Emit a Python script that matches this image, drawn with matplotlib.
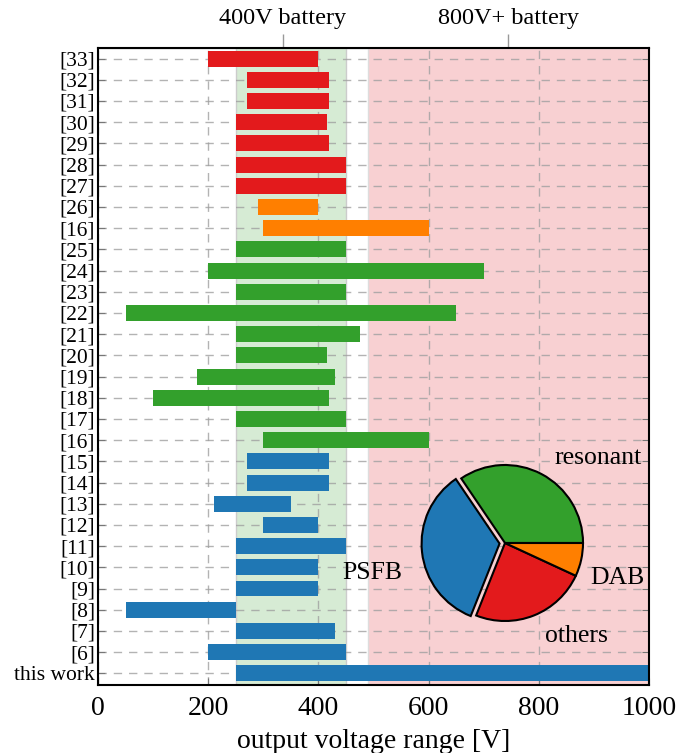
import matplotlib
matplotlib.use('Agg')
import matplotlib.pyplot as plt

# ------------------------------------------------------------------------------
# data
labels = ['this work', '[6]', '[7]', '[8]', '[9]', '[10]', '[11]', '[12]',
          '[13]', '[14]', '[15]', '[16]', '[17]', '[18]', '[19]', '[20]',
          '[21]', '[22]', '[23]', '[24]', '[25]', '[16]', '[26]', '[27]',
          '[28]', '[29]', '[30]', '[31]', '[32]', '[33]']
v_min  = [250, 200, 250,  50, 250, 250, 250, 300, 210, 270, 270,
          300, 250, 100, 180, 250, 250,  50, 250, 200, 250,
          300, 290,
          250, 250, 250, 250, 270, 270, 200]
v_max  = [1000, 450, 430, 250, 400, 400, 450, 400, 350, 420, 420,
          600, 450, 420, 430, 415, 475, 650, 450, 700, 450,
          600, 400,
          450, 450, 420, 415, 420, 420, 400]
kind   = (['PSFB'] * 11 + ['resonant'] * 10 + ['DAB'] * 2 + ['others'] * 7)

pie_names  = ['resonant', 'PSFB', 'others', 'DAB']
pie_counts = [10, 10, 7, 2]

band_400 = (250, 450)
band_800 = (490, 1000)
battery_ticks  = [335, 745]
battery_labels = ['400V battery', '800V+ battery']

colors = {'PSFB'    : '#1f77b4',
          'resonant': '#33a02c',
          'DAB'     : '#ff7f00',
          'others'  : '#e31a1c'}

plt.rcParams['font.family'] = ['Liberation Serif', 'DejaVu Serif']

W, H = 691, 753

# ------------------------------------------------------------------------------
fig = plt.figure(figsize=(W / 100, H / 100), dpi=100)
ax  = fig.add_axes([98 / W, 1 - 685 / H, 551 / W, 637 / H])

ax.axvspan(*band_400, color='#d6ebd4', ec='#cccccc', lw=1, zorder=0.1)
ax.axvspan(*band_800, color='#f8d0d2', ec='#dddddd', lw=1, zorder=0.1)

ypos = list(range(len(labels)))
ax.barh(ypos, [b - a for a, b in zip(v_min, v_max)], left=v_min,
        height=0.75, color=[colors[k] for k in kind], zorder=2)

ax.set_xlim(0, 1000)
ax.set_ylim(-0.55, len(labels) - 0.5)
ax.set_xticks([0, 200, 400, 600, 800, 1000])
ax.set_yticks(ypos)
ax.set_yticklabels(labels, fontsize=15.5)
ax.tick_params(axis='x', labelsize=20, direction='in', length=5,
               color='#777777', pad=8)
ax.tick_params(axis='y', direction='in', length=5, color='#777777',
               right=True, pad=2)
ax.set_xlabel('output voltage range [V]', fontsize=20, labelpad=6)

ax.grid(True, ls=(0, (6, 5)), color='#a0a0a0', lw=1, alpha=0.8)
ax.set_axisbelow(True)
for s in ax.spines.values():
    s.set_linewidth(1.5)

top = ax.secondary_xaxis('top')
top.set_xticks(battery_ticks)
top.set_xticklabels(battery_labels, fontsize=17.5)
top.tick_params(direction='out', length=10, color='#999999', width=1, pad=4)

# ------------------------------------------------------------------------------
# pie inset
r_px = 78
cx, cy = 505, 543
half = 110
pax = fig.add_axes([(cx - half) / W, 1 - (cy + half) / H,
                    2 * half / W, 2 * half / H])
pax.pie(pie_counts, colors=[colors[n] for n in pie_names], startangle=0,
        explode=[0, 0.07, 0, 0], radius=1,
        wedgeprops=dict(edgecolor='black', linewidth=1.5))
lim = half / r_px
pax.set_xlim(-lim, lim)
pax.set_ylim(-lim, lim)
pax.set_aspect('equal')
pax.axis('off')

# pie labels, placed in figure pixels
label_px = [(598, 458), (372, 573), (576, 636), (617, 578)]
for name, (px, py) in zip(pie_names, label_px):
    fig.text(px / W, 1 - py / H, name, fontsize=18.5,
             ha='center', va='center')

fig.savefig('out.png', dpi=100)
